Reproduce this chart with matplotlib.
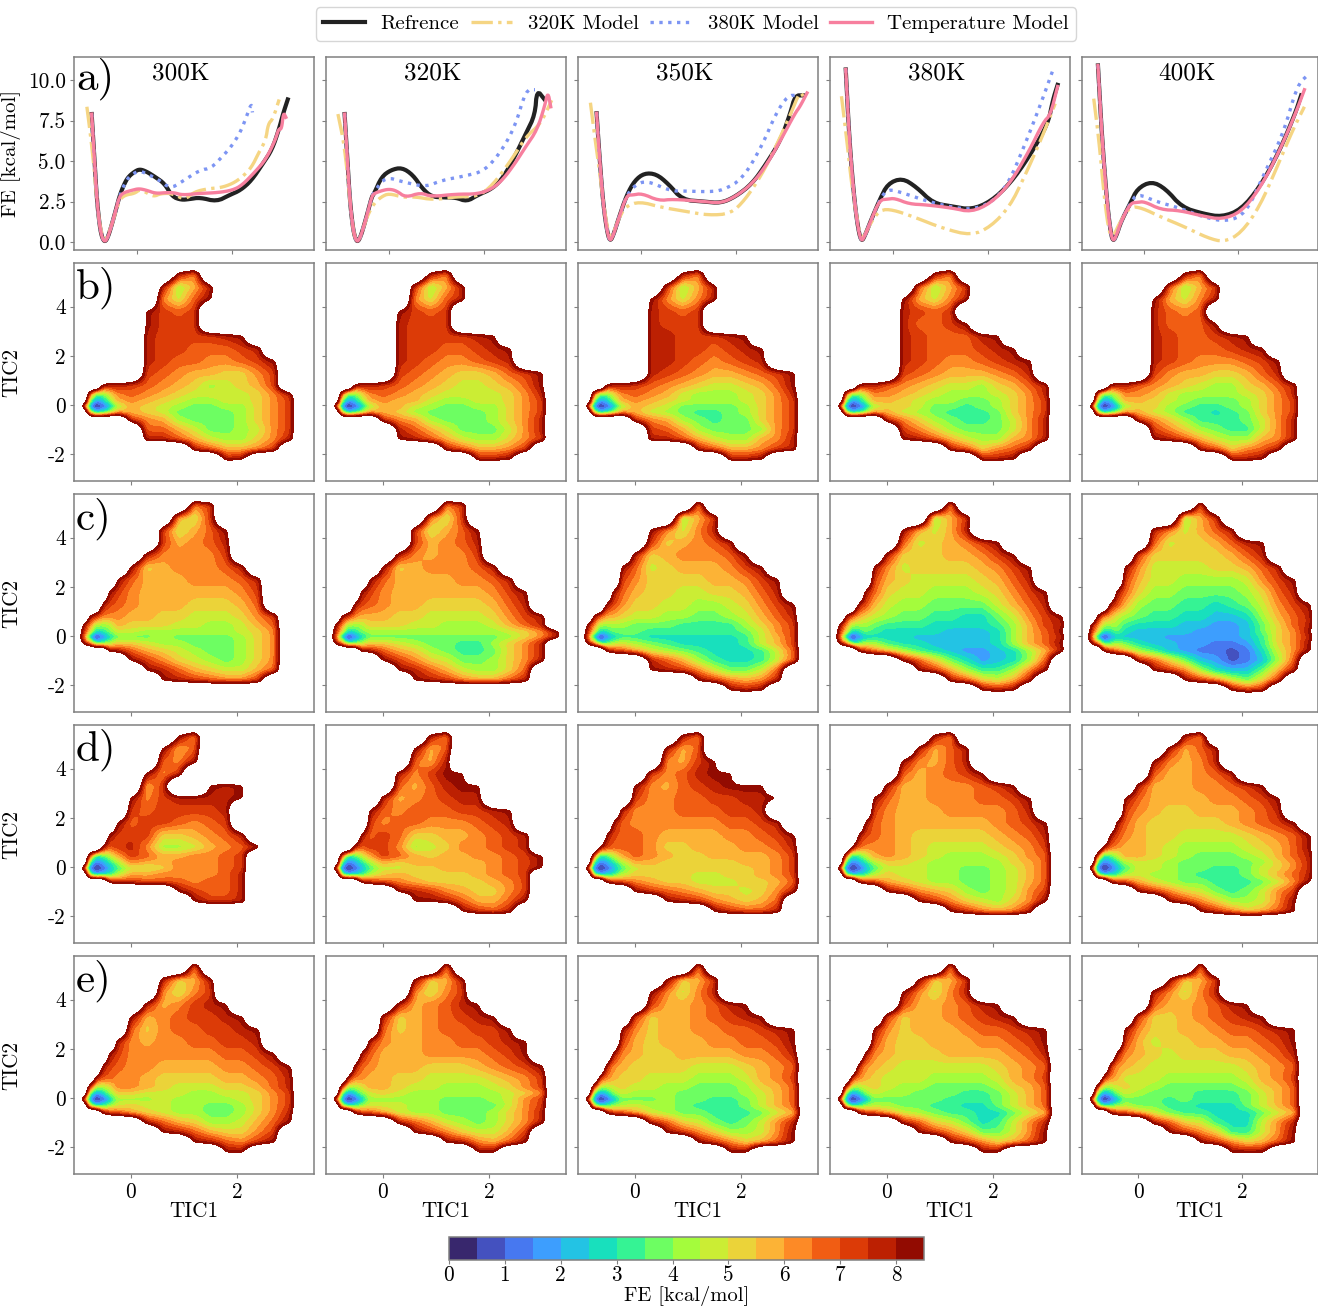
import numpy as np
import matplotlib
matplotlib.use("Agg")
import matplotlib.pyplot as plt
from matplotlib.lines import Line2D

plt.rcParams['font.family'] = ['cmr10', 'DejaVu Serif']
plt.rcParams['mathtext.fontset'] = 'cm'
plt.rcParams['axes.unicode_minus'] = False

W, H = 1318, 1309
TEMPS = ["300K", "320K", "350K", "380K", "400K"]
LETTERS = ["a)", "b)", "c)", "d)", "e)"]
SERIES_LABELS = ["Refrence", "320K Model", "380K Model", "Temperature Model"]
LEVELS = [0, .5, 1, 1.5, 2, 2.5, 3, 3.5, 4, 4.5, 5, 5.5, 6, 6.5, 7, 7.5, 8, 8.5]

# ---------- row a: free energy profiles (TIC1, FE) ----------
WELL_300_X = [-.95, -.89, -.84, -.78, -.73, -.67, -.61, -.54, -.45, -.37]
WELL_300_Y = [7.9, 5.05, 2.6, .95, .25, 0, .3, .95, 1.9, 2.8]
REF_300_X = [-.28, -.19, -.05, .06, .2, .39, .58, .74, .93, 1.1, 1.32, 1.67, 1.94, 2.17, 2.4, 2.64, 2.83, 2.98, 3.06, 3.16]
REF_300_Y = [3.5, 4.0, 4.35, 4.5, 4.35, 4.0, 3.6, 2.8, 2.6, 2.65, 2.75, 2.5, 2.9, 3.2, 3.8, 4.85, 5.7, 7.0, 7.9, 8.8]
TM_300_X = [-.28, -.1, .04, .2, .39, .6, .78, .95, 1.3, 1.7, 2.0, 2.2, 2.48, 2.7, 2.9, 2.97, 3.03, 3.07, 3.12]
TM_300_Y = [3.05, 3.2, 3.3, 3.2, 3.0, 3.05, 3.05, 2.9, 3.0, 3.05, 3.2, 3.5, 4.35, 5.1, 6.3, 7.0, 6.95, 8.0, 7.7]
M380_300_X = [-.23, -.1, .06, .25, .45, .7, .93, 1.32, 1.55, 1.78, 1.98, 2.17, 2.29, 2.4, 2.42]
M380_300_Y = [3.8, 4.2, 4.4, 4.15, 3.85, 3.3, 3.7, 4.45, 4.55, 5.25, 5.9, 6.8, 7.7, 8.6, 8.0]
M320_300_X = [-1.05, -.97, -.9, -.84, -.78, -.67, -.54, -.37, -.25, -.05, .06, .2, .35, .5, .75, 1, 1.2, 1.5, 1.75, 2.0, 2.2, 2.4, 2.55, 2.7, 2.75, 2.85, 2.98]
M320_300_Y = [8.35, 6.5, 4.6, 2.6, .95, 0, .95, 2.6, 2.9, 3.0, 3.25, 3.05, 2.8, 3.0, 3.0, 2.6, 3.1, 3.3, 3.35, 3.6, 4.0, 4.6, 5.5, 6.3, 7.3, 7.6, 8.8]

WELL_320_X = [-.93, -.87, -.82, -.76, -.71, -.66, -.6, -.53, -.44, -.36]
WELL_320_Y = [7.9, 5.0, 2.6, .95, .25, 0, .3, .95, 1.9, 2.8]
REF_320_X = [-.31, -.155, .04, .27, .5, .7, .89, 1.16, 1.4, 1.63, 1.86, 2.17, 2.4, 2.64, 2.87, 3.06, 3.1, 3.26]
REF_320_Y = [3.0, 4.03, 4.45, 4.6, 4.15, 3.3, 2.8, 2.75, 2.75, 2.5, 2.9, 3.3, 4.0, 5.3, 6.7, 7.85, 9.4, 8.8]
TM_320_X = [-.31, -.155, 0, .155, .35, .66, .89, 1.4, 1.86, 2.17, 2.4, 2.64, 2.87, 3.1, 3.26, 3.33, 3.39]
TM_320_Y = [3.0, 3.17, 3.27, 3.17, 2.75, 3.05, 2.8, 2.96, 2.96, 3.3, 3.9, 4.85, 5.9, 6.9, 8.35, 9.3, 8.35]
M380_320_X = [-.31, -.08, .31, .78, 1.09, 1.63, 2.0, 2.33, 2.64, 2.87, 3.06]
M380_320_Y = [3.1, 4.03, 3.7, 3.4, 3.8, 4.1, 4.4, 5.5, 7.1, 9.4, 9.4]
M320_320_X = [-1.07, -.93, -.82, -.76, -.71, -.66, -.6, -.53, -.44, -.31, -.155, 0, .31, .54, .93, 1.4, 1.86, 2.17, 2.56, 2.87, 3.18, 3.41]
M320_320_Y = [7.9, 5.9, 2.6, .95, .25, 0, .3, .95, 1.7, 2.4, 2.8, 3.0, 2.75, 2.8, 2.6, 2.8, 2.8, 3.5, 5.05, 6.5, 7.3, 8.75]

WELL_350_X = [-.93, -.88, -.8, -.72, -.65, -.57, -.48, -.3]
WELL_350_Y = [7.95, 5.7, 2.6, .8, 0, .5, 1.35, 2.9]
REF_350_X = [-.13, .07, .32, .57, .87, 1.32, 1.67, 1.98, 2.33, 2.63, 2.93, 3.13, 3.23, 3.41]
REF_350_Y = [3.8, 4.25, 4.2, 3.6, 2.6, 2.5, 2.4, 2.8, 3.6, 4.85, 6.3, 7.95, 9.05, 9.05]
TM_350_X = [-.18, .02, .37, .67, 1.32, 1.67, 1.98, 2.33, 2.63, 2.93, 3.23, 3.33, 3.48]
TM_350_Y = [2.9, 3.0, 2.55, 2.65, 2.5, 2.4, 2.8, 3.6, 4.75, 6.3, 7.95, 8.35, 9.2]
M380_350_X = [-.13, .12, .62, .92, 1.42, 1.72, 2.13, 2.53, 2.83, 3.08, 3.28]
M380_350_Y = [3.5, 3.8, 3.15, 3.15, 3.1, 3.2, 3.9, 5.9, 7.95, 9.05, 9.05]
M320_350_X = [-1.06, -.96, -.86, -.78, -.65, -.48, -.33, -.03, .42, .92, 1.42, 1.88, 2.18, 2.53, 2.83, 3.13, 3.33, 3.4]
M320_350_Y = [8.6, 6.3, 4.2, 2.2, 0, 1.35, 2.2, 2.5, 2.15, 1.9, 1.65, 1.75, 2.6, 4.15, 5.9, 7.85, 9.3, 9.0]

WELL_380_X = [-.99, -.91, -.81, -.73, -.66, -.58, -.46, -.28]
WELL_380_Y = [10.65, 6.1, 2.6, .8, 0, .45, 1.35, 2.6]
REF_380_X = [-.11, .19, .49, .84, 1.24, 1.64, 2.05, 2.45, 2.85, 3.25, 3.35, 3.45]
REF_380_Y = [3.6, 3.95, 3.4, 2.4, 2.2, 2.0, 2.5, 3.6, 5.25, 7.3, 8.75, 9.7]
TM_380_X = [-.11, .04, .34, .69, 1.24, 1.64, 2.05, 2.45, 2.85, 3.15, 3.3, 3.45]
TM_380_Y = [2.65, 2.7, 2.35, 2.3, 2.1, 1.85, 2.4, 3.6, 5.6, 7.4, 7.85, 9.6]
M380_380_X = [-.11, .24, .74, 1.24, 1.64, 2.05, 2.4, 2.75, 3.1, 3.35]
M380_380_Y = [3.3, 3.0, 2.5, 2.15, 2.0, 2.4, 3.5, 5.9, 8.55, 10.6]
M320_380_X = [-1.08, -.96, -.86, -.76, -.66, -.46, -.26, -.01, .44, 1.04, 1.64, 2.05, 2.45, 2.75, 3.1, 3.4]
M320_380_Y = [9.0, 6.1, 3.4, 1.55, 0, 1.25, 2.0, 2.0, 1.55, .85, .4, .95, 2.2, 4.0, 6.3, 8.55]

WELL_400_X = [-.98, -.89, -.79, -.72, -.66, -.58, -.49, -.29]
WELL_400_Y = [10.9, 6.3, 2.6, .8, 0, .45, 1.25, 2.4]
REF_400_X = [-.14, .16, .46, .81, 1.26, 1.66, 2.07, 2.47, 2.87, 3.22, 3.35]
REF_400_Y = [3.3, 3.75, 3.3, 2.15, 1.75, 1.55, 2.0, 3.4, 5.5, 7.9, 9.05]
TM_400_X = [-.14, .01, .36, .76, 1.26, 1.66, 2.07, 2.47, 2.87, 3.22, 3.42]
TM_400_Y = [2.45, 2.5, 2.0, 1.95, 1.6, 1.4, 1.85, 3.3, 5.5, 7.85, 9.4]
M380_400_X = [-.14, .26, .76, 1.26, 1.76, 2.17, 2.57, 2.97, 3.27, 3.49]
M380_400_Y = [3.0, 2.5, 2.1, 1.55, 1.25, 1.75, 4.25, 6.7, 9.7, 10.3]
M320_400_X = [-1.07, -.96, -.84, -.74, -.66, -.49, -.29, -.04, .36, .86, 1.36, 1.71, 2.07, 2.47, 2.87, 3.17, 3.42]
M320_400_Y = [8.85, 6.3, 2.6, .55, .3, 1.35, 2.2, 2.1, 1.55, .95, .25, 0, .55, 2.2, 4.85, 6.9, 8.35]

WELLS_X = [WELL_300_X, WELL_320_X, WELL_350_X, WELL_380_X, WELL_400_X]
WELLS_Y = [WELL_300_Y, WELL_320_Y, WELL_350_Y, WELL_380_Y, WELL_400_Y]
REF_X = [REF_300_X, REF_320_X, REF_350_X, REF_380_X, REF_400_X]
REF_Y = [REF_300_Y, REF_320_Y, REF_350_Y, REF_380_Y, REF_400_Y]
TM_X = [TM_300_X, TM_320_X, TM_350_X, TM_380_X, TM_400_X]
TM_Y = [TM_300_Y, TM_320_Y, TM_350_Y, TM_380_Y, TM_400_Y]
M380_X = [M380_300_X, M380_320_X, M380_350_X, M380_380_X, M380_400_X]
M380_Y = [M380_300_Y, M380_320_Y, M380_350_Y, M380_380_Y, M380_400_Y]
M320_X = [M320_300_X, M320_320_X, M320_350_X, M320_380_X, M320_400_X]
M320_Y = [M320_300_Y, M320_320_Y, M320_350_Y, M320_380_Y, M320_400_Y]

# ---------- rows b-e: free energy surfaces ----------
# one character per grid node: colour-band number (0-9, a-g = 0.5 kcal/mol bands), '.' = no data
TIC1_NODES = [-.9, -.78, -.66, -.54, -.42, -.25, 0, .3, .6, .9, 1.2, 1.5, 1.8, 2.1, 2.4, 2.7, 3.0, 3.3]
TIC2_NODES = [5.3, 4.8, 4.3, 3.8, 3.3, 2.8, 2.3, 1.8, 1.3, .8, .45, .2, -.05, -.3, -.6, -1.0, -1.4, -1.8, -2.2]

B_300 = [".........fc", "........f8bf", "........c9dg", ".......gede", ".......geee", ".......feeeefg", ".......feedddef", ".......feddccdeg", ".......edcbbaace", "...gffedcba89abe", "..bbdedcba9999acf", ".d66accba98899ace", "gc038bba987788ace", ".f78bcba977778ace", "......ecb87778ace", ".......ddb97789ce", ".......ffdb988acf", "..........fdbbce", "............fg"]
B_320 = [".........fc", "........e8bf", "........c9df", ".......gede", ".......feee", ".......feeeefg", ".......feeddefg", ".......fedccdef", ".......edcbaabdeg", "...gffedcba99abdg", "..bbdedcba9999acf", ".d66accbb98899ace", "gc038bbb987788ace", ".f78bcba877778ace", "......ecb87778acf", ".......fdb97779cf", ".......gfdb988ace", "..........fdbbce", "............ffg"]
B_350 = [".........fc", "........e8bf", ".......gc9cf", ".......fede", ".......feee", ".......ffeeefg", ".......ffeedefg", ".......ffedcdef", ".......fedcbbcdeg", "...gffedcba99abdg", "..bbdedcb98889acf", ".d66accba98889ace", "gc038bba977778ace", ".f78bcb9876678ace", "......ecb87677ace", ".......edb87778ce", ".......ffdb988bcf", "..........fdbbcef", "............ffg"]
B_380 = [".........fc", "........d8be", ".......gb9cf", ".......fede", ".......fddeg", ".......fedddfg", ".......fedddefg", ".......fedccdefg", ".......edcbbbcdf", "...gffdcba998abdf", "..bbddcba98889acf", ".d66abba988778ace", "gc038aaa977678ace", ".f78abb9876667ace", "......eca876679cf", ".......eca87779cf", ".......gfdb988bcf", "..........fdacdf", "............ffg"]
B_400 = [".........fc", "........d8be", ".......gb9cf", ".......fdcd", ".......fdddg", ".......feddefg", ".......fedddefg", ".......fedcccdeg", ".......ecbbaabdf", "...gffdcba988abdf", "..bbddcb988889acf", ".d66abba987778ace", "gc038aaa876678ace", ".f78abb9866567ace", "......eca866679cf", ".......eca87669cf", ".......gfdb988bcf", "..........fdacdf", "............ffg"]

C_300 = ["..........ce", ".........b9e", "........e9bdg", "........ebcdf", ".......fcccce", "......gabcccdf", ".....gdbbbcccdf", "....gecbbbbbbce", "...gedcbbbaaabd", ".gecccbbaa999ace", "gc99bbaaa99889bd", "fb569998888889ac", "e9037777877778ac", "gd789aa9887778ac", "....gfdba98778ac", "......geca9878ac", ".......gfdba99bd", "........gfedcce", ""]
C_320 = ["..........ce", ".........c9e", "........e9bdg", "........ebcdf", ".......fcbcce", "......gabcccdf", ".....gdbbbbccdf", "....gecbbbbbbceg", "...gedcbbaaaabdf", ".gecbbbaa9999acef", "gc99aaaa998889bdf", "fb5688888888889acg", "e90377777777778acf", "gd789aa9877668acf", "....gfdba87667acf", "......geca9778acf", ".......gfdb988ad", "........gfecbbdf", ""]
C_350 = ["..........c", ".........8be", ".......gc9cf", ".......eabcdf", "......fabcccdg", ".....gd9abbbceg", ".....ecaaaabbceg", "....gdbaa99aabdf", "...gecaa99889aceg", ".gdbba99887789bdf", "gc888877766668ace", "fb5577766666679ce", "e90366655555569be", "gd7899876555569be", "...gedb987655569d", ".......fdb865569d", ".......gfec9779d", "..........gecbcf", "............gfg"]
C_380 = ["..........c", ".........8be", ".......gb9bf", ".......d9abceg", "......faaabbceg", ".....gc9aaaabceg", ".....eba9999abdf", "....gda998889aceg", "...geb98877779bdf", ".gdba9877665579ceg", "gc8877666555568bef", "fb4566555544458bdg", "e90355554444458bdf", "gd7788655444458bdg", "...geca865433458bf", ".......gda753458d", "........geb8668cg", "..........fda9bf", "............gfg"]
C_400 = ["..........d", ".........8be", ".......fc9bdf", ".......d9aabdfg", "......eaaaaabdf", ".....gc9999aabdf", ".....eb9988889ceg", "....gda8877778adf", "...geb877665679ceg", ".gcb98766554458bdf", "gc8766555443347adf", "fb4555444433347acg", "e90344443333346acf", "gd7677544332236acg", "..geca8643221259cg", "......fda7431248d", ".......gec85447bf", ".........gec97ae", "............gef"]

D_300 = [".........gc", "........gbd", "........dcf", ".......gce", ".......be..gfg", "......gceffffg", "......edeeeef", ".....gdeedcde", "....geeeaabcdf", "...gdefc889bcdf", "..d9bdedbbccde", ".f757bcbbcccde", "gc036899acccde", ".f877abbccccdf", "....geedddcddf", ".........geddf", "..........geef", "", ""]
D_320 = [".........fc", "........gbd", "........dbf", ".......fcegg", ".......dbdfgg", "......fbcdeff", ".....gdcdddeefg", ".....ecddcccdef", "....gdedaabbcdef", "...fdeec89accdef", "..c9bdedbabbccdeg", ".f757bbabbbbbcdeg", "gc036899aabbbcdeg", ".f8779abaaaabcde", "....gedcbaaaabce", ".......gfecbaace", "........ggfdbbdg", "...........gedf", ""]
D_350 = [".........fc", "........fbd", "........cbeg", ".......ecdfgg", "......gcbdefggg", "......eccddeeffg", ".....fcccdddeef", "....gdccccccddef", "...geddcbbbbccdeg", "..gedddcaabbbccdf", "..b9bcdcbaabbbbce", ".e757abbaaaaabbce", "gc03689aaaaaaabce", ".f8779aaaa99aabce", "...gedcbaa999aabd", "......gedcbaa9acf", "........gfecbabd", "...........geddf", ""]
D_380 = [".........fc", "........fbdf", ".......gcbdf", ".......dbcdeg", "......fbbcccdeg", ".....gdbbcccddeg", ".....ecbbbccccdf", "....gdcbbbbbbcdeg", "...gedcbaaaaabcdf", "..gdcccba9999abce", ".ea9abcba98889acd", ".c7579aa988888abd", "gc0368999887789bd", ".e8779a99887789bd", "...gedba9887789bd", "......gecba8789ce", "........geca98acg", "..........gecbcf", ""]
D_400 = [".........fc", "........fbdf", ".......gcbcf", ".......dbbcdf", "......fbbbccdeg", ".....gdbbbbccdeg", ".....ecbaabbbcdf", "....gdbaaaaabcdeg", "...gecbaa9999abcdg", "..gdcbba988889abdg", ".ea9abba9877789bdf", ".c7579998777778acf", "gc0368998776679acf", ".e8779988766679bdf", "...gedb987766679cg", "......geca97679ce", "........geca889cg", "..........gecabdg", ""]

E_300 = ["..........c", "........fabf", "........c9ce", ".......fbcefg", "......gbcdeefg", "......dacddeefg", ".....fcbccddeef", "....geccccccddeg", "...gedccbbbbccdeg", "..fddccbaaaabbcdf", ".fbabccba999aabdf", ".d569aa9998899ace", "gc037888988889ace", ".e7789a9988778ace", "...gedba988778acf", ".......fdba889bdg", "........gfdbaace", "..........gfdceg", "............gg"]
E_320 = ["..........c", "........gabf", "........c9ce", ".......fbcdfg", "......fabcdefg", "......dabcddeeg", ".....fcbbccddefg", "....gdbbbccccdeg", "...gdcbbbaaabcdeg", "..fccbbaa9999abce", ".eb9abba998889ace", ".d5699a98888889ac", "gc0378888877789ce", ".e7789998877779ce", "...gedb9887778acf", ".......fdb9878acf", "........geca99be", "..........gfcbdg", "............gg"]
E_350 = ["..........c", "........gabe", ".......gc9cf", ".......ebbcdfg", "......eabbcdefg", ".....gcabbccddefg", ".....ebabbbccddeg", "....gcbaabbbbccdf", "...fcbaaaa999abcd", "..ecbaa9998889bce", ".ea9aa99887778abd", ".c5699888777789bd", "gc0377778776679bd", ".e7788988766679bd", "...gedb987766679b", ".......fda97679cf", "........geca889cg", "..........gecabdg", "............gg"]
E_380 = ["..........c", "........gabe", ".......gc9cf", ".......ebbcdfg", "......eabbcdefg", ".....gcabbbcddefg", ".....ebaabbbccdeg", "....gcbaaabbbbcdf", "...fcba999999abcd", "..ecba99988889bce", ".ea9aa98877778abd", ".c5699887776679bd", "gc0377777766679bd", ".e7788877665579bd", "...gedb987665579b", ".......fda97569cf", "........geca779cg", "..........gecabdg", "............gg"]
E_400 = ["..........c", "........gabe", ".......fc9cf", ".......dbbcdfg", "......eaabcdefg", ".....gcaabbcddefg", ".....eb9aabbccdeg", "....gcba9aaabbcdf", "...fcba999999abcd", "..ecb999888889bce", ".ea9aa98777778abd", ".c5699877766679bd", "gc0377776766679bd", ".e7788776655579bd", "...gedb976655579b", ".......fda96559cf", "........geca669cg", "..........gecabdg", "............ggg"]

SURFACES = [[B_300, B_320, B_350, B_380, B_400],
            [C_300, C_320, C_350, C_380, C_400],
            [D_300, D_320, D_350, D_380, D_400],
            [E_300, E_320, E_350, E_380, E_400]]

# the deep basin near TIC1=-0.66, nodes at TIC2 = .45, .2, -.05, -.3
BASIN_B = [".d779c", ".8347b", "e30138", ".9457b"]
BASIN_C = ["gc888", "fa557", "d4024", "gc668"]
BASIN_D = [".d568b", ".62358", "e20136", ".73458"]
BASIN_E = [".e889", ".7347", "d3013", ".8457"]
BASINS = [BASIN_B, BASIN_C, BASIN_D, BASIN_E]

BANDS = "0123456789abcdefg"
EMPTY_FE = 13.0


def decode(rows, basin):
    """Character table -> FE grid, padded with empty nodes around the outside."""
    nx = len(TIC1_NODES)
    z = np.full((len(TIC2_NODES) + 2, nx + 2), EMPTY_FE)
    for i, row in enumerate(rows):
        for j, ch in enumerate(row[:nx]):
            if ch != '.':
                z[i + 1, j + 1] = BANDS.index(ch) * .5 + .25
    first = TIC2_NODES.index(.45)
    for k, row in enumerate(basin):
        for j, ch in enumerate(row):
            z[first + k + 1, j + 1] = EMPTY_FE if ch == '.' else BANDS.index(ch) * .5 + .25
    z[z == .25] = 0.0
    return z[::-1]


TIC1_GRID = np.array([-1.1] + TIC1_NODES + [3.55])
TIC2_GRID = np.array([5.8] + TIC2_NODES + [-2.6])[::-1]
FINE_X = np.arange(-1.1, 3.5501, .02)
FINE_Y = np.arange(-2.6, 5.8001, .04)


def gauss(sig):
    t = np.arange(-8, 9)
    k = np.exp(-.5 * (t / sig) ** 2)
    return k / k.sum()


def refine(z):
    """Fill the table onto a fine mesh and round its corners lightly for contouring."""
    a = np.array([np.interp(FINE_X, TIC1_GRID, row) for row in z])
    b = np.array([np.interp(FINE_Y, TIC2_GRID, col) for col in a.T]).T - EMPTY_FE
    kx, ky = gauss(1.8), gauss(1.8)
    b = np.array([np.convolve(row, kx, mode='same') for row in b])
    b = np.array([np.convolve(col, ky, mode='same') for col in b.T]).T
    return b + EMPTY_FE


def rounded(x, y, n=2):
    """Corner-cut a read-off polyline so that it draws smoothly."""
    p = np.column_stack([x, y])
    for _ in range(n):
        q = np.empty((2 * len(p) - 2, 2))
        q[0::2] = .75 * p[:-1] + .25 * p[1:]
        q[1::2] = .25 * p[:-1] + .75 * p[1:]
        p = np.vstack([p[:1], q, p[-1:]])
    return p[:, 0], p[:, 1]


fig = plt.figure(figsize=(W / 100, H / 100), dpi=100)


def axpx(l, t, r, b):
    return fig.add_axes([l / W, 1 - b / H, (r - l) / W, (b - t) / H])


def style(ax):
    for s in ax.spines.values():
        s.set_color('#808080')
        s.set_linewidth(1.1)
    ax.tick_params(length=3, width=.8, color='#808080', labelsize=15.3, pad=3)


COLS = [(74, 314), (326, 566), (578, 818), (830, 1070), (1082, 1318)]
ROWS = [(57, 250), (263, 481), (494, 712), (725, 943), (956, 1174)]
C_REF, C_320K, C_380K, C_TM = '#222222', '#f5d583', '#7d95f3', '#f77f9e'

cf = None
for r, (top, bot) in enumerate(ROWS):
    for c, (left, right) in enumerate(COLS):
        ax = axpx(left, top, right, bot)
        style(ax)
        if r == 0:
            wx, wy = WELLS_X[c], WELLS_Y[c]
            ax.plot(*rounded(wx + REF_X[c], wy + REF_Y[c]), color=C_REF, lw=3.0, zorder=2)
            ax.plot(*rounded(M320_X[c], M320_Y[c]), color=C_320K, lw=2.4, ls='-.', zorder=3)
            ax.plot(*rounded(wx + M380_X[c], wy + M380_Y[c]), color=C_380K, lw=2.4, ls=':', zorder=4)
            ax.plot(*rounded(wx + TM_X[c], wy + TM_Y[c]), color=C_TM, lw=2.4, zorder=5)
            ax.set_xlim(-1.32, 3.71)
            ax.set_ylim(-.49, 11.42)
            ax.set_xticks([0, 2])
            ax.set_xticklabels([])
            ax.set_yticks([0, 2.5, 5, 7.5, 10])
            ax.set_yticklabels(['0.0', '2.5', '5.0', '7.5', '10.0'] if c == 0 else [])
            ax.text(.446, .915, TEMPS[c], transform=ax.transAxes, ha='center', va='center', fontsize=18.2)
            if c == 0:
                ax.set_ylabel('FE [kcal/mol]', fontsize=15, labelpad=3)
        else:
            z = refine(decode(SURFACES[r - 1][c], BASINS[r - 1]))
            cf = ax.contourf(FINE_X, FINE_Y, z, levels=LEVELS, cmap='turbo')
            ax.set_xlim(-1.075, 3.453)
            ax.set_ylim(-3.09, 5.77)
            ax.set_xticks([0, 2])
            ax.set_yticks([-2, 0, 2, 4])
            ax.set_yticklabels(['-2', '0', '2', '4'] if c == 0 else [])
            if r == 4:
                ax.set_xticklabels(['0', '2'])
                ax.set_xlabel('TIC1', fontsize=15.3, labelpad=0)
            else:
                ax.set_xticklabels([])
            if c == 0:
                ax.set_ylabel('TIC2', fontsize=15.3, labelpad=3)
        if c == 0:
            ax.text(.008, .885, LETTERS[r], transform=ax.transAxes, ha='left', va='center', fontsize=31)
            ax.yaxis.set_label_coords((21 - left) / (right - left), .5)

cax = axpx(449, 1237, 924, 1260)
cb = fig.colorbar(cf, cax=cax, orientation='horizontal', ticks=list(range(9)))
cb.ax.tick_params(length=3, width=.8, color='#808080', labelsize=15.3, pad=1)
cb.outline.set_edgecolor('#808080')
cb.outline.set_linewidth(1.1)
cb.set_label('FE [kcal/mol]', fontsize=14.8, labelpad=1)

handles = [Line2D([], [], color=C_REF, lw=3.0),
           Line2D([], [], color=C_320K, lw=2.4, ls='-.'),
           Line2D([], [], color=C_380K, lw=2.4, ls=':'),
           Line2D([], [], color=C_TM, lw=2.4)]
fig.legend(handles, SERIES_LABELS, loc='center', bbox_to_anchor=(696 / W, 1 - 24 / H), ncol=4,
           fontsize=15, handlelength=2.0, columnspacing=.55, handletextpad=.75, borderpad=.35,
           framealpha=.8)

fig.savefig('out.png', dpi=100)
